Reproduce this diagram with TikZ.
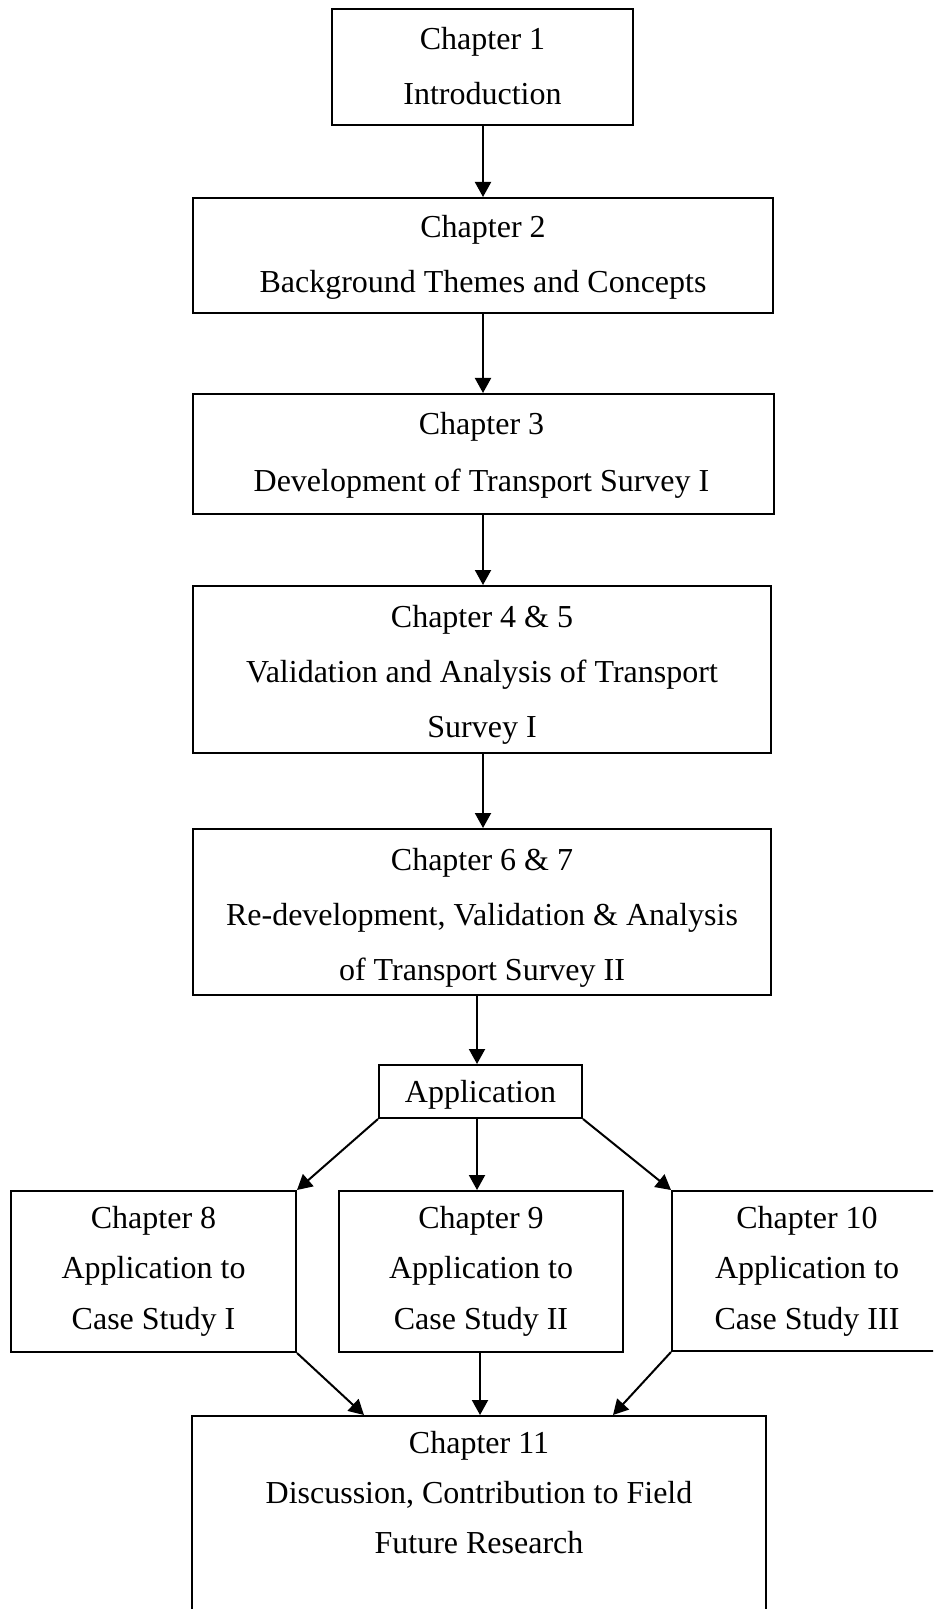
\documentclass[tikz,border=0pt]{standalone}
\usepackage{fontspec}
\setmainfont{Liberation Serif}
\usetikzlibrary{arrows.meta}
\begin{document}
\begin{tikzpicture}[x=0.5pt,y=-0.5pt,
  box/.style={draw,line width=1pt,rectangle,inner sep=0pt},
  txt/.style={anchor=base,inner sep=0pt,font=\fontsize{16pt}{19pt}\selectfont},
  arr/.style={line width=1pt,-{Triangle[length=7.5pt,width=8pt]}}]
\useasboundingbox (0,0) rectangle (933,1609);
\clip (0,0) rectangle (933,1609);
% boxes
\node[box,minimum width=150.5pt,minimum height=58pt] (b1) at (482.5,67) {};
\node[box,minimum width=290pt,minimum height=57.5pt] (b2) at (483,255.5) {};
\node[box,minimum width=290.5pt,minimum height=60pt] (b3) at (483.5,454) {};
\node[box,minimum width=289pt,minimum height=83.5pt] (b4) at (482,669.5) {};
\node[box,minimum width=289pt,minimum height=83pt] (b5) at (482,912) {};
\node[box,minimum width=101.5pt,minimum height=26.5pt] (app) at (480.5,1091.5) {};
\node[box,minimum width=142.5pt,minimum height=80.5pt] (b8) at (153.5,1271.5) {};
\node[box,minimum width=142pt,minimum height=80.5pt] (b9) at (481,1271.5) {};
\node[box,minimum width=140pt,minimum height=80pt] (b10) at (812,1271) {};
\node[box,minimum width=287pt,minimum height=112pt] (b11) at (479,1528) {};
% texts
\node[txt] (t1a) at (482.5,50) {Chapter 1};
\node[txt] (t1b) at (482.5,105) {Introduction};
\node[txt] (t2a) at (483,238) {Chapter 2};
\node[txt] (t2b) at (483,293) {Background Themes and Concepts};
\node[txt] (t3a) at (481.5,435) {Chapter 3};
\node[txt] (t3b) at (481.5,491) {Development of Transport Survey I};
\node[txt] (t4a) at (482,627) {Chapter 4 \& 5};
\node[txt] (t4b) at (482,682) {Validation and Analysis of Transport};
\node[txt] (t4c) at (482,737) {Survey I};
\node[txt] (t5a) at (482,870) {Chapter 6 \& 7};
\node[txt] (t5b) at (482,925) {Re-development, Validation \& Analysis};
\node[txt] (t5c) at (482,980) {of Transport Survey II};
\node[txt] (tapp) at (480.5,1102) {Application};
\node[txt] (t8a) at (153.5,1228) {Chapter 8};
\node[txt] (t8b) at (153.5,1278) {Application to};
\node[txt] (t8c) at (153.5,1329) {Case Study I};
\node[txt] (t9a) at (481,1228) {Chapter 9};
\node[txt] (t9b) at (481,1278) {Application to};
\node[txt] (t9c) at (481,1329) {Case Study II};
\node[txt] (t10a) at (807,1228) {Chapter 10};
\node[txt] (t10b) at (807,1278) {Application to};
\node[txt] (t10c) at (807,1329) {Case Study III};
\node[txt] (t11a) at (479,1453) {Chapter 11};
\node[txt] (t11b) at (479,1503) {Discussion, Contribution to Field};
\node[txt] (t11c) at (479,1553) {Future Research};
% connector x positions
\coordinate (xa) at (483,0);
\coordinate (xb) at (477,0);
\coordinate (xc) at (480,0);
\coordinate (xl) at (364,0);
\coordinate (xr) at (613,0);
% arrows
\draw[arr] (b1.south -| xa) -- (b2.north -| xa);
\draw[arr] (b2.south -| xa) -- (b3.north -| xa);
\draw[arr] (b3.south -| xa) -- (b4.north -| xa);
\draw[arr] (b4.south -| xa) -- (b5.north -| xa);
\draw[arr] (b5.south -| xb) -- (app.north -| xb);
\draw[arr] (app.south west) -- (b8.north east);
\draw[arr] (app.south -| xb) -- (b9.north -| xb);
\draw[arr] (app.south east) -- (b10.north west);
\draw[arr] (b8.south east) -- (b11.north -| xl);
\draw[arr] (b9.south -| xc) -- (b11.north -| xc);
\draw[arr] (b10.south west) -- (b11.north -| xr);
\end{tikzpicture}
\end{document}
